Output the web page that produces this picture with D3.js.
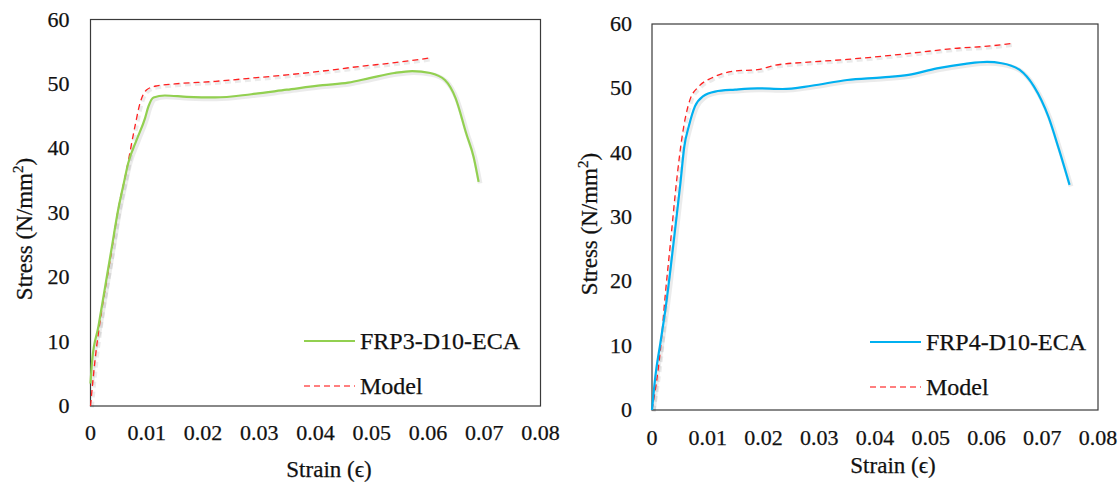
<!DOCTYPE html>
<html><head><meta charset="utf-8">
<script src="https://cdn.jsdelivr.net/npm/d3@7"></script>
<style>html,body{margin:0;padding:0;background:#fff}svg{display:block}</style>
</head><body>
<script>
// ---- data ----
const xTicks = [0, 0.01, 0.02, 0.03, 0.04, 0.05, 0.06, 0.07, 0.08];
const xTickLabels = ["0", "0.01", "0.02", "0.03", "0.04", "0.05", "0.06", "0.07", "0.08"];
const yTicks = [0, 10, 20, 30, 40, 50, 60];

const frp3Strain = [0, 0.0003, 0.0014, 0.0026, 0.0038, 0.0049, 0.0058, 0.0067, 0.0082, 0.0097, 0.0103, 0.0112, 0.0132, 0.0171, 0.0222, 0.0286, 0.0349, 0.0413, 0.0458, 0.0496, 0.0540, 0.0572, 0.0604, 0.0630, 0.0649, 0.0668, 0.0681, 0.0690];
const frp3Stress = [3.5, 7.1, 12.3, 18.5, 24.7, 30.4, 34.1, 37.7, 41.3, 44.7, 46.5, 47.9, 48.2, 48.0, 47.9, 48.4, 49.1, 49.8, 50.2, 50.9, 51.7, 52.0, 51.7, 50.6, 47.8, 42.3, 38.7, 34.8];
const model3Strain = [0, 0.0008, 0.0020, 0.0035, 0.0049, 0.0064, 0.0079, 0.0088, 0.0100, 0.0118, 0.0150, 0.0222, 0.0286, 0.0349, 0.0413, 0.0477, 0.0541, 0.0601];
const model3Stress = [0, 7.1, 14.9, 22.7, 30.4, 36.6, 43.4, 47.0, 49.1, 49.7, 50.0, 50.4, 50.9, 51.4, 52.0, 52.7, 53.3, 54.0];

const frp4Strain = [0, 0.0006, 0.0015, 0.0024, 0.0033, 0.0042, 0.0051, 0.0058, 0.0066, 0.0077, 0.0092, 0.0113, 0.0149, 0.0189, 0.0234, 0.0286, 0.0350, 0.0414, 0.0460, 0.0511, 0.0562, 0.0601, 0.0627, 0.0659, 0.0685, 0.0711, 0.0730, 0.0749];
const frp4Stress = [0, 5.2, 10.4, 15.6, 21.8, 28.5, 35.3, 41.0, 44.1, 47.2, 48.8, 49.5, 49.8, 50.0, 49.9, 50.4, 51.3, 51.7, 52.1, 53.1, 53.8, 54.1, 53.9, 52.9, 50.3, 45.6, 40.5, 35.0];
const model4Strain = [0, 0.0015, 0.0024, 0.0033, 0.0045, 0.0054, 0.0068, 0.0084, 0.0107, 0.0149, 0.0189, 0.0221, 0.0286, 0.0350, 0.0414, 0.0479, 0.0543, 0.0608, 0.0646];
const model4Stress = [0, 9.3, 18.1, 25.9, 36.3, 42.5, 48.2, 50.3, 51.6, 52.7, 52.9, 53.6, 54.1, 54.5, 55.0, 55.6, 56.2, 56.6, 57.0];

const legend3 = ["FRP3-D10-ECA", "Model"];
const legend4 = ["FRP4-D10-ECA", "Model"];

// ---- drawing ----
const FONT = "Liberation Serif";
const W = 1120, H = 483;
const svg = d3.select("body").append("svg").attr("width", W).attr("height", H);

function zip(a, b) { return a.map((v, i) => [v, b[i]]); }

function label(sel, size) {
  return sel.attr("font-family", FONT).attr("font-size", size).attr("fill", "#111")
    .attr("stroke", "#111").attr("stroke-width", 0.25);
}

function panel(cfg) {
  const x = d3.scaleLinear().domain([0, 0.08]).range([cfg.left, cfg.right]);
  const y = d3.scaleLinear().domain([0, 60]).range([cfg.bottom, cfg.top]);
  const g = svg.append("g");

  // frame
  g.append("rect").attr("x", cfg.left).attr("y", cfg.top)
    .attr("width", cfg.right - cfg.left).attr("height", cfg.bottom - cfg.top)
    .attr("fill", "none").attr("stroke", "#3a3a3a").attr("stroke-width", 1.2);

  // tick labels (drawn from the scales)
  g.selectAll(null).data(xTicks).join("text")
    .call(label, 22).attr("text-anchor", "middle")
    .attr("x", d => x(d)).attr("y", cfg.bottom + cfg.xPad)
    .text((d, i) => xTickLabels[i]);
  g.selectAll(null).data(yTicks).join("text")
    .call(label, 22).attr("text-anchor", "end")
    .attr("x", cfg.left - cfg.yPad).attr("y", d => y(d) + 7)
    .text(d => d);

  const line = d3.line().x(d => x(d[0])).y(d => y(d[1])).curve(d3.curveMonotoneX);

  // soft shadow copies
  [[zip(cfg.mStrain, cfg.mStress), 1.3, "6,4"], [zip(cfg.sStrain, cfg.sStress), 2.2, null]].forEach(([d, w, da]) => {
    g.append("path").datum(d).attr("d", line).attr("transform", "translate(1.5,1.5)")
      .attr("fill", "none").attr("stroke", "#000").attr("stroke-opacity", 0.08)
      .attr("stroke-width", w + 2.5).attr("stroke-dasharray", da);
  });
  g.append("path").datum(zip(cfg.mStrain, cfg.mStress)).attr("d", line)
    .attr("fill", "none").attr("stroke", "#ff2020").attr("stroke-width", 1.3)
    .attr("stroke-dasharray", "6,4");
  g.append("path").datum(zip(cfg.sStrain, cfg.sStress)).attr("d", line)
    .attr("fill", "none").attr("stroke", cfg.color).attr("stroke-width", 2.2);

  // axis titles
  g.append("text").call(label, 23).attr("x", cfg.xtX).attr("y", cfg.xtY).attr("text-anchor", "middle")
    .text("Strain (ϵ)");
  const yt = g.append("text").call(label, 23).attr("transform", `translate(${cfg.ytX},${cfg.ytY}) rotate(-90)`)
    .attr("text-anchor", "middle");
  yt.append("tspan").text("Stress (N/mm");
  yt.append("tspan").attr("dy", -9).attr("font-size", 15).text("2");
  yt.append("tspan").attr("dy", 9).text(")");

  // legend
  g.append("line").attr("x1", cfg.lgX).attr("x2", cfg.lgX + 51).attr("y1", cfg.lgY).attr("y2", cfg.lgY)
    .attr("stroke", cfg.color).attr("stroke-width", 2.2);
  g.append("text").call(label, 24).attr("x", cfg.lgX + 56).attr("y", cfg.lgY + 8).text(cfg.legend[0]);
  g.append("line").attr("x1", cfg.lgX).attr("x2", cfg.lgX + 51).attr("y1", cfg.lgY + 45).attr("y2", cfg.lgY + 45)
    .attr("stroke", "#ff0000").attr("stroke-width", 1.2).attr("stroke-dasharray", "6,4");
  g.append("text").call(label, 24).attr("x", cfg.lgX + 56).attr("y", cfg.lgY + 53).text(cfg.legend[1]);
}

panel({left: 90.5, right: 540.5, top: 19.5, bottom: 406, xPad: 34, yPad: 21,
  sStrain: frp3Strain, sStress: frp3Stress, mStrain: model3Strain, mStress: model3Stress,
  color: "#92d050", legend: legend3, lgX: 304, lgY: 341,
  xtX: 329, xtY: 477, ytX: 32, ytY: 229});

panel({left: 652, right: 1098, top: 24, bottom: 410, xPad: 35, yPad: 20,
  sStrain: frp4Strain, sStress: frp4Stress, mStrain: model4Strain, mStress: model4Stress,
  color: "#00b0f0", legend: legend4, lgX: 870, lgY: 342,
  xtX: 893, xtY: 473, ytX: 597, ytY: 224});
</script>
</body></html>
